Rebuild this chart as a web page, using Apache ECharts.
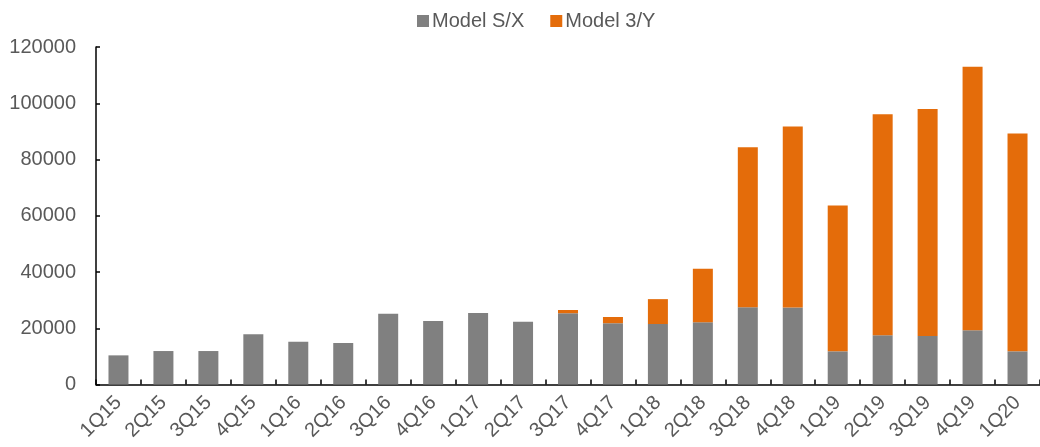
<!DOCTYPE html>
<html>
<head>
<meta charset="utf-8">
<script src="https://cdn.jsdelivr.net/npm/echarts@6/dist/echarts.min.js"></script>
<style>html,body{margin:0;padding:0;background:#fff;}#c{width:1040px;height:447px;}</style>
</head>
<body>
<div id="c"></div>
<script>
var categories = ['1Q15','2Q15','3Q15','4Q15','1Q16','2Q16','3Q16','4Q16','1Q17','2Q17','3Q17','4Q17','1Q18','2Q18','3Q18','4Q18','1Q19','2Q19','3Q19','4Q19','1Q20'];
var modelSX = [10360, 11900, 11900, 17850, 15200, 14750, 25200, 22600, 25450, 22300, 25350, 21800, 21500, 22100, 27450, 27350, 11800, 17500, 17250, 19300, 11800];
var model3Y = [null, null, null, null, null, null, null, null, null, null, 1150, 2200, 8850, 19050, 56950, 64350, 51850, 78600, 80750, 93700, 77450];
var yTicks = [0, 20000, 40000, 60000, 80000, 100000, 120000];

var chart = echarts.init(document.getElementById('c'), null, {renderer: 'canvas'});
var font = 'Liberation Sans, Arial, sans-serif';
chart.setOption({
  animation: false,
  backgroundColor: '#ffffff',
  textStyle: {fontFamily: font},
  legend: {
    top: 6,
    left: 412,
    itemWidth: 12,
    itemHeight: 12,
    itemGap: 26,
    icon: 'rect',
    textStyle: {fontSize: 20, color: '#595959', fontFamily: font, padding: [0, 0, 0, -2]},
    data: ['Model S/X', 'Model 3/Y']
  },
  grid: {left: 96, top: 47, width: 945, height: 337.5, containLabel: false},
  xAxis: {
    type: 'category',
    data: categories,
    axisLine: {lineStyle: {color: '#000', width: 1.5}},
    axisTick: {show: true, inside: true, length: 5, alignWithLabel: false, lineStyle: {color: '#000', width: 1.5}},
    axisLabel: {rotate: 45, fontSize: 20, color: '#595959', margin: 15, fontFamily: font, interval: 0}
  },
  yAxis: {
    type: 'value',
    min: yTicks[0],
    max: yTicks[yTicks.length - 1],
    interval: yTicks[1] - yTicks[0],
    axisLine: {show: true, lineStyle: {color: '#000', width: 1.5}},
    axisTick: {show: true, inside: true, length: 4, lineStyle: {color: '#000', width: 1.5}},
    splitLine: {show: false},
    axisLabel: {fontSize: 20, color: '#595959', margin: 20, fontFamily: font, formatter: function (v) { return String(v); }}
  },
  series: [
    {
      name: 'Model S/X', type: 'bar', stack: 'total', data: modelSX, barWidth: 20,
      itemStyle: {color: '#808080'}
    },
    {
      name: 'Model 3/Y', type: 'bar', stack: 'total', data: model3Y, barWidth: 20,
      itemStyle: {color: '#E46C0A'}
    }
  ]
});
</script>
</body>
</html>
